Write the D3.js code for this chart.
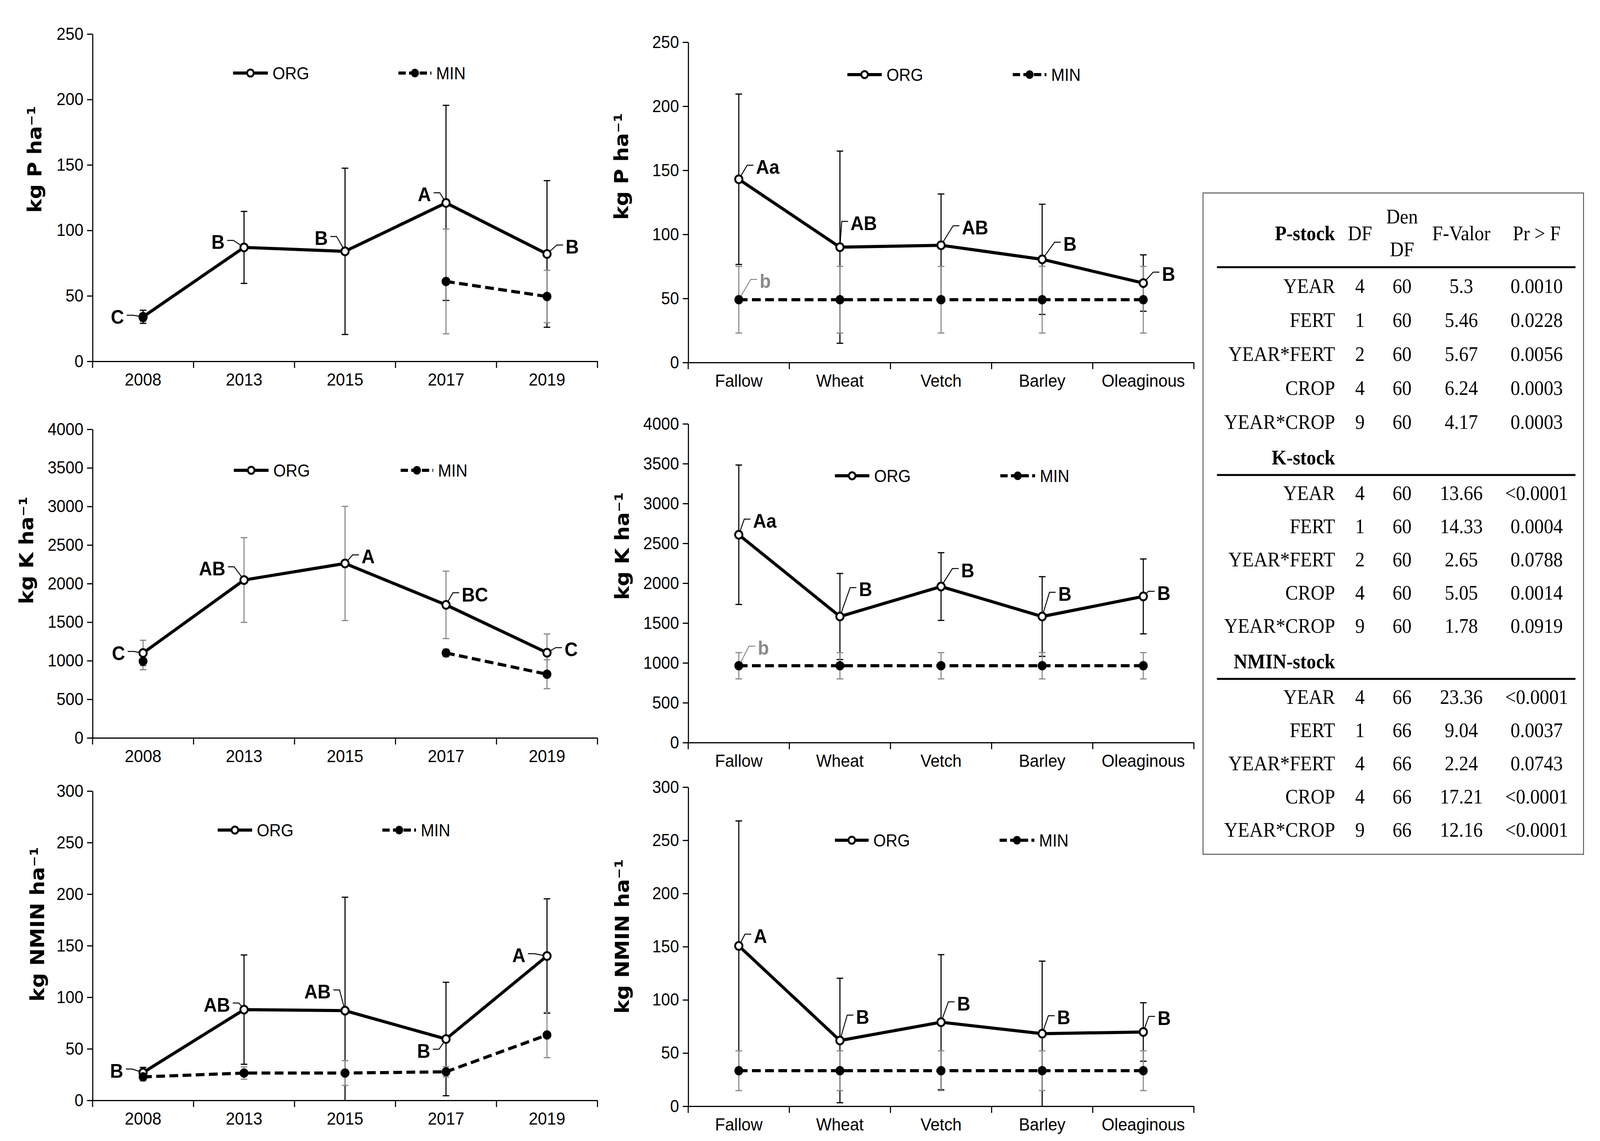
<!DOCTYPE html>
<html><head><meta charset="utf-8">
<script src="https://cdn.jsdelivr.net/npm/d3@7/dist/d3.min.js"></script>
<style>
html,body{margin:0;padding:0;width:100%;height:100%;overflow:hidden;background:#fff}
#fig{display:block;width:100vw;height:100vh}
</style>
</head><body>
<svg id="fig" viewBox="0 0 4373 2921" preserveAspectRatio="none"></svg>
<script>
// ---------------- DATA ----------------
const years = ["2008", "2013", "2015", "2017", "2019"];
const crops = ["Fallow", "Wheat", "Vetch", "Barley", "Oleaginous"];

// P stock by year
const pYearOrg   = [34, 87, 84, 121, 82];
const pYearOrgSd = [5, 27.5, 63.5, 74.5, 56];
const pYearMin   = [33.5, null, null, 61, 49.5];
const pYearMinSd = [3, null, null, 40, 20];
const pYearLetters = ["C", "B", "B", "A", "B"];

// P stock by crop
const pCropOrg   = [143, 90, 91.5, 80.5, 62];
const pCropOrgSd = [66.5, 75, 40, 43, 22];
const pCropMin   = [49, 49, 49, 49, 49];
const pCropMinSd = [26, 26, 26, 26, 26];
const pCropLetters = ["Aa", "AB", "AB", "B", "B"];
const pCropMinLetters = ["b", "", "", "", ""];

// K stock by year
const kYearOrg   = [1100, 2046, 2261, 1724, 1104];
const kYearOrgSd = [165, 549, 740, 437, 243];
const kYearMin   = [994, null, null, 1101, 825];
const kYearMinSd = [110, null, null, 50, 187];
const kYearLetters = ["C", "AB", "A", "BC", "C"];

// K stock by crop
const kCropOrg   = [2608, 1582, 1958, 1582, 1834];
const kCropOrgSd = [875, 540, 425, 500, 470];
const kCropMin   = [964, 964, 964, 964, 964];
const kCropMinSd = [165, 165, 165, 165, 165];
const kCropLetters = ["Aa", "B", "B", "B", "B"];
const kCropMinLetters = ["b", "", "", "", ""];

// NMIN stock by year
const nYearOrg   = [27, 88, 87, 59.5, 140];
const nYearOrgSd = [5, 53, 110, 55, 55.5];
const nYearMin   = [22.8, 26.5, 26.5, 27.7, 63.4];
const nYearMinSd = [4, 6, 12, 5, 22];
const nYearLetters = ["B", "AB", "AB", "B", "A"];

// NMIN stock by crop
const nCropOrg   = [150.7, 61.8, 79, 68.2, 69.8];
const nCropOrgSd = [117.5, 58.5, 63.5, 68.2, 27.5];
const nCropMin   = [33.4, 33.4, 33.4, 33.4, 33.4];
const nCropMinSd = [18.7, 18.7, 18.7, 18.7, 18.7];
const nCropLetters = ["A", "B", "B", "B", "B"];

const seriesNames = ["ORG", "MIN"];

// ANOVA table
const tableHeader = ["DF", "Den DF", "F-Valor", "Pr > F"];
const tableSections = ["P-stock", "K-stock", "NMIN-stock"];
const tableEffects = ["YEAR", "FERT", "YEAR*FERT", "CROP", "YEAR*CROP"];
const pDF = [4, 1, 2, 4, 9];
const pDenDF = [60, 60, 60, 60, 60];
const pF = ["5.3", "5.46", "5.67", "6.24", "4.17"];
const pPr = ["0.0010", "0.0228", "0.0056", "0.0003", "0.0003"];
const kDF = [4, 1, 2, 4, 9];
const kDenDF = [60, 60, 60, 60, 60];
const kF = ["13.66", "14.33", "2.65", "5.05", "1.78"];
const kPr = ["<0.0001", "0.0004", "0.0788", "0.0014", "0.0919"];
const nDF = [4, 1, 4, 4, 9];
const nDenDF = [66, 66, 66, 66, 66];
const nF = ["23.36", "9.04", "2.24", "17.21", "12.16"];
const nPr = ["<0.0001", "0.0037", "0.0743", "<0.0001", "<0.0001"];

// ---------------- LAYOUT ----------------
const GREY = "#8a8a8a";
const TICK_FONT = "'Liberation Sans', Arial, sans-serif";
const TITLE_FONT = "'DejaVu Sans', Verdana, sans-serif";
const TABLE_FONT = "'Liberation Serif', 'Times New Roman', serif";

const panels = [
  { cats: years, org: pYearOrg, orgSd: pYearOrgSd, min: pYearMin, minSd: pYearMinSd,
    letters: pYearLetters, minLetters: null, yMax: 250, yStep: 50, title: "kg P ha\u207B\u00B9",
    x0: 253, x1: 1633, yBot: 925, yTop: 87, titleX: 95, titleY: 408, orgErr: "#000",
    legend: { org: [637, 732], min: [1089, 1179], y: 187 },
    off: [[-52, 0], [-53, -14], [-47, -34], [-41, -22], [51, -19]], minOff: null },
  { cats: crops, org: pCropOrg, orgSd: pCropOrgSd, min: pCropMin, minSd: pCropMinSd,
    letters: pCropLetters, minLetters: pCropMinLetters, yMax: 250, yStep: 50, title: "kg P ha\u207B\u00B9",
    x0: 1881, x1: 3263, yBot: 928, yTop: 108, titleX: 1698, titleY: 426, orgErr: "#000",
    legend: { org: [2316, 2410], min: [2768, 2860], y: 191 },
    off: [[47, -32], [29, -62], [57, -46], [58, -40], [51, -24]], minOff: [[57, -48]] },
  { cats: years, org: kYearOrg, orgSd: kYearOrgSd, min: kYearMin, minSd: kYearMinSd,
    letters: kYearLetters, minLetters: null, yMax: 4000, yStep: 500, title: "kg K ha\u207B\u00B9",
    x0: 253, x1: 1633, yBot: 1889, yTop: 1099, titleX: 72, titleY: 1409, orgErr: GREY,
    legend: { org: [639, 734], min: [1095, 1184], y: 1204 },
    off: [[-49, 0], [-51, -30], [45, -18], [43, -27], [48, -9]], minOff: null },
  { cats: crops, org: kCropOrg, orgSd: kCropOrgSd, min: kCropMin, minSd: kCropMinSd,
    letters: kCropLetters, minLetters: kCropMinLetters, yMax: 4000, yStep: 500, title: "kg K ha\u207B\u00B9",
    x0: 1881, x1: 3263, yBot: 1901, yTop: 1085, titleX: 1700, titleY: 1398, orgErr: "#000",
    legend: { org: [2282, 2376], min: [2734, 2829], y: 1218 },
    off: [[39, -36], [52, -70], [55, -42], [44, -58], [38, -9]], minOff: [[52, -46]] },
  { cats: years, org: nYearOrg, orgSd: nYearOrgSd, min: nYearMin, minSd: nYearMinSd,
    letters: nYearLetters, minLetters: null, yMax: 300, yStep: 50, title: "kg NMIN ha\u207B\u00B9",
    x0: 253, x1: 1633, yBot: 2817, yTop: 2025, titleX: 102, titleY: 2366, orgErr: "#000",
    legend: { org: [595, 689], min: [1045, 1137], y: 2125 },
    off: [[-54, -5], [-38, -13], [-39, -49], [-43, 30], [-59, -2]], minOff: null },
  { cats: crops, org: nCropOrg, orgSd: nCropOrgSd, min: nCropMin, minSd: nCropMinSd,
    letters: nCropLetters, minLetters: null, yMax: 300, yStep: 50, title: "kg NMIN ha\u207B\u00B9",
    x0: 1881, x1: 3263, yBot: 2832, yTop: 2015, titleX: 1700, titleY: 2397, orgErr: "#000",
    legend: { org: [2282, 2374], min: [2732, 2827], y: 2151 },
    off: [[41, -26], [44, -61], [44, -48], [41, -42], [39, -36]], minOff: null }
];

const svg = d3.select("#fig");
svg.append("rect").attr("width", 4373).attr("height", 2921).attr("fill", "#fff");

function drawPanel(p) {
  const g = svg.append("g");
  const x = d3.scaleBand().domain(p.cats).range([p.x0, p.x1]);
  const y = d3.scaleLinear().domain([0, p.yMax]).range([p.yBot, p.yTop]);
  const cx = c => x(c) + x.bandwidth() / 2;

  // Y axis
  const yAxis = d3.axisLeft(y).tickValues(d3.range(0, p.yMax + 1, p.yStep))
    .tickSize(15).tickPadding(10).tickSizeOuter(0).tickFormat(d3.format("d"));
  const ya = g.append("g").attr("transform", `translate(${p.x0},0)`).call(yAxis);
  ya.select(".domain").attr("stroke", "#000").attr("stroke-width", 3);
  ya.selectAll(".tick line").attr("stroke", "#000").attr("stroke-width", 3);
  ya.selectAll(".tick text").attr("font-family", TICK_FONT).attr("font-size", 44).attr("fill", "#000");

  // X axis
  const xAxis = d3.axisBottom(x).tickSize(0).tickPadding(30).tickSizeOuter(0);
  const xa = g.append("g").attr("transform", `translate(0,${p.yBot})`).call(xAxis);
  xa.select(".domain").attr("stroke", "#000").attr("stroke-width", 3);
  xa.selectAll(".tick text").attr("font-family", TICK_FONT).attr("font-size", 45).attr("fill", "#000");
  xa.selectAll(".bound").data(d3.range(p.cats.length + 1)).enter().append("line")
    .attr("x1", i => p.x0 + i * x.step()).attr("x2", i => p.x0 + i * x.step())
    .attr("y1", 0).attr("y2", 17).attr("stroke", "#000").attr("stroke-width", 3);

  // Y title
  g.append("text").attr("transform", `translate(${p.titleX},${p.titleY}) rotate(-90)`)
    .attr("text-anchor", "middle").attr("dy", "0.35em")
    .attr("font-family", TITLE_FONT).attr("font-weight", "bold").attr("font-size", 53)
    .attr("fill", "#000").text(p.title);

  const orgPts = p.cats.map((c, i) => ({ c, v: p.org[i], sd: p.orgSd[i], i }));
  const minPts = p.cats.map((c, i) => ({ c, v: p.min[i], sd: p.minSd[i], i }));

  function errBars(pts, color) {
    const valid = pts.filter(d => d.v != null);
    const eg = g.append("g").attr("stroke", color).attr("stroke-width", 3);
    valid.forEach(d => {
      const top = y(d.v + d.sd), bot = y(Math.max(0, d.v - d.sd)), xc = cx(d.c);
      eg.append("line").attr("x1", xc).attr("x2", xc).attr("y1", top).attr("y2", bot);
      eg.append("line").attr("x1", xc - 9).attr("x2", xc + 9).attr("y1", top).attr("y2", top);
      if (d.v - d.sd > 0)
        eg.append("line").attr("x1", xc - 9).attr("x2", xc + 9).attr("y1", bot).attr("y2", bot);
    });
  }
  errBars(orgPts, p.orgErr);
  errBars(minPts, GREY);

  const line = d3.line().defined(d => d.v != null).x(d => cx(d.c)).y(d => y(d.v));
  g.append("path").datum(minPts).attr("d", line).attr("fill", "none")
    .attr("stroke", "#000").attr("stroke-width", 8).attr("stroke-dasharray", "24,12");
  g.append("path").datum(orgPts).attr("d", line).attr("fill", "none")
    .attr("stroke", "#000").attr("stroke-width", 8).attr("stroke-linejoin", "round");

  // letter labels with leader lines
  function labels(pts, letters, offs, color) {
    pts.forEach((d, k) => {
      const L = letters[d.i];
      if (!L || d.v == null) return;
      const o = offs[k] || offs[0];
      const px = cx(d.c), py = y(d.v);
      const tx = px + o[0], ty = py + o[1];
      const s = o[0] >= 0 ? 1 : -1;
      const ey = ty - 4;
      g.append("path")
        .attr("d", `M${px},${py}L${tx - s * 24},${ey}L${tx - s * 7},${ey}`)
        .attr("fill", "none").attr("stroke", color).attr("stroke-width", 2.5);
      g.append("text").attr("x", tx).attr("y", ty).attr("dy", "0.36em")
        .attr("text-anchor", s > 0 ? "start" : "end")
        .attr("font-family", TICK_FONT).attr("font-weight", "bold").attr("font-size", 50)
        .attr("fill", color).text(L);
    });
  }
  labels(orgPts, p.letters, p.off, "#000");
  if (p.minLetters) labels(minPts.filter(d => p.minLetters[d.i]), p.minLetters, p.minOff, GREY);

  // markers
  g.selectAll(".om").data(orgPts.filter(d => d.v != null)).enter().append("circle")
    .attr("cx", d => cx(d.c)).attr("cy", d => y(d.v)).attr("r", 10)
    .attr("fill", "#fff").attr("stroke", "#000").attr("stroke-width", 5);
  g.selectAll(".mm").data(minPts.filter(d => d.v != null)).enter().append("circle")
    .attr("cx", d => cx(d.c)).attr("cy", d => y(d.v)).attr("r", 12).attr("fill", "#000");

  // legend
  const lg = p.legend;
  [["org", seriesNames[0]], ["min", seriesNames[1]]].forEach(([k, name]) => {
    const [a, b] = lg[k];
    const l = g.append("line").attr("x1", a).attr("x2", b).attr("y1", lg.y).attr("y2", lg.y)
      .attr("stroke", "#000").attr("stroke-width", 8);
    if (k === "min") l.attr("stroke-dasharray", "20,9");
    const m = (a + b) / 2;
    if (k === "org")
      g.append("circle").attr("cx", m).attr("cy", lg.y).attr("r", 9).attr("fill", "#fff")
        .attr("stroke", "#000").attr("stroke-width", 5);
    else
      g.append("circle").attr("cx", m).attr("cy", lg.y).attr("r", 11).attr("fill", "#000");
    g.append("text").attr("x", b + 13).attr("y", lg.y).attr("dy", "0.36em")
      .attr("font-family", TICK_FONT).attr("font-size", 44).attr("fill", "#000").text(name);
  });
}
panels.forEach(drawPanel);

// ---------------- TABLE ----------------
(function drawTable() {
  const t = svg.append("g").attr("font-family", TABLE_FONT).attr("font-size", 52).attr("fill", "#000");
  t.append("rect").attr("x", 3288).attr("y", 494).attr("width", 1040).attr("height", 1693)
    .attr("fill", "none").attr("stroke", "#555").attr("stroke-width", 2.5);
  const labX = 3649, colX = [3717, 3832, 3994, 4200];
  const rule = yy => t.append("line").attr("x1", 3326).attr("x2", 4306).attr("y1", yy).attr("y2", yy)
    .attr("stroke", "#000").attr("stroke-width", 5);
  const txt = (x, yy, s, anchor, bold) => t.append("text").attr("x", x).attr("y", yy)
    .attr("text-anchor", anchor).attr("font-weight", bold ? "bold" : "normal").text(s);

  // header
  txt(labX, 615, tableSections[0], "end", true);
  txt(colX[0], 615, tableHeader[0], "middle");
  const dd = tableHeader[1].split(" ");
  txt(colX[1], 572, dd[0], "middle");
  txt(colX[1], 656, dd[1], "middle");
  txt(colX[2], 615, tableHeader[2], "middle");
  txt(colX[3], 615, tableHeader[3], "middle");
  rule(684);

  const blocks = [
    { df: pDF, den: pDenDF, f: pF, pr: pPr, y0: 750, step: 87, head: null },
    { df: kDF, den: kDenDF, f: kF, pr: kPr, y0: 1280, step: 85, head: [tableSections[1], 1189, 1216] },
    { df: nDF, den: nDenDF, f: nF, pr: nPr, y0: 1802, step: 85, head: [tableSections[2], 1711, 1738] }
  ];
  blocks.forEach(b => {
    if (b.head) { txt(labX, b.head[1], b.head[0], "end", true); rule(b.head[2]); }
    tableEffects.forEach((e, i) => {
      const yy = b.y0 + i * b.step;
      txt(labX, yy, e, "end");
      txt(colX[0], yy, String(b.df[i]), "middle");
      txt(colX[1], yy, String(b.den[i]), "middle");
      txt(colX[2], yy, b.f[i], "middle");
      txt(colX[3], yy, b.pr[i], "middle");
    });
  });
})();
</script>
</body></html>
